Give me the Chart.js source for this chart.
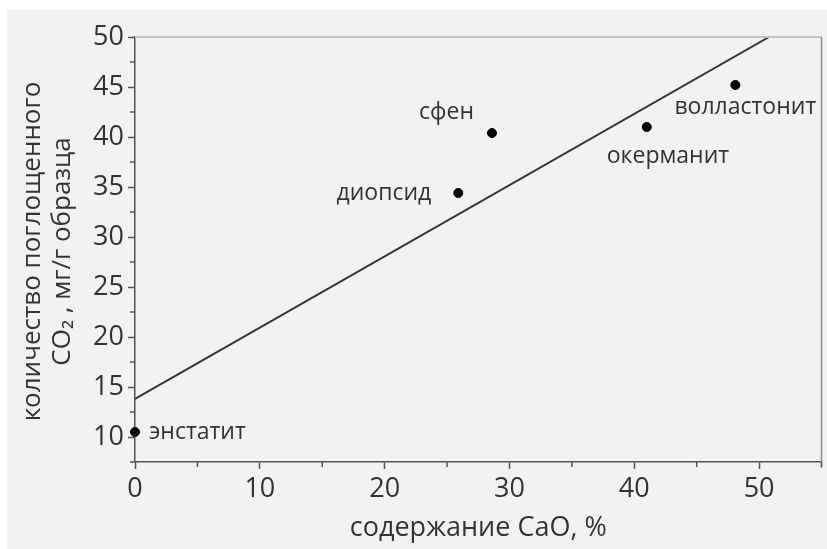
<!DOCTYPE html>
<html>
<head>
<meta charset="utf-8">
<script src="https://cdn.jsdelivr.net/npm/chart.js@4"></script>
<style>
  html, body { margin: 0; padding: 0; background: #fff; }
  #wrap { width: 827px; height: 549px; }
</style>
</head>
<body>
<div id="wrap"><canvas id="chart" width="827" height="549"></canvas></div>
<script>
// minerals: CaO content (%) vs absorbed CO2 (mg/g)
const minerals = ['энстатит', 'диопсид', 'сфен', 'окерманит', 'волластонит'];
const caoContent = [0, 25.9, 28.6, 41.0, 48.1];
const co2Absorbed = [10.5, 34.4, 40.4, 41.0, 45.2];

// fit line end points (x, y)
const fitX = [0, 50.8];
const fitY = [13.8, 50];

const xTicks = [0, 10, 20, 30, 40, 50];
const yTicks = [10, 15, 20, 25, 30, 35, 40, 45, 50];

const textColor = '#333';
const fontFamily = '"Open Sans", "Noto Sans", sans-serif';

// where each label sits relative to its dot: [dx, dy, align]
const labelPlace = [
  [14, 0, 'left'],
  [-27, 0, 'right'],
  [-18, -21, 'right'],
  [-40, 29, 'left'],
  [-61, 22, 'left']
];

const backdrop = {
  id: 'backdrop',
  beforeDraw(chart) {
    const ctx = chart.ctx;
    ctx.save();
    ctx.fillStyle = '#f2f2f2';
    ctx.fillRect(7, 10, chart.width - 7, chart.height - 10);
    ctx.restore();
  },
  afterDraw(chart) {
    const ctx = chart.ctx;
    const a = chart.chartArea;
    const xs = chart.scales.x, ys = chart.scales.y;
    ctx.save();
    // top and right frame
    ctx.strokeStyle = '#c4c4c4';
    ctx.lineWidth = 2;
    ctx.beginPath();
    ctx.moveTo(a.left, a.top);
    ctx.lineTo(a.right, a.top);
    ctx.stroke();
    ctx.strokeStyle = '#8a8a8a';
    ctx.lineWidth = 1.5;
    ctx.beginPath();
    ctx.moveTo(a.right, a.top);
    ctx.lineTo(a.right, a.bottom + 6);
    ctx.stroke();
    // minor ticks
    ctx.strokeStyle = '#555';
    ctx.lineWidth = 1.5;
    for (let v = 5; v <= 55; v += 10) {
      const px = xs.getPixelForValue(v);
      ctx.beginPath();
      ctx.moveTo(px, a.bottom);
      ctx.lineTo(px, a.bottom + 5);
      ctx.stroke();
    }
    for (let v = 7.5; v <= 50; v += 5) {
      const py = ys.getPixelForValue(v);
      ctx.beginPath();
      ctx.moveTo(a.left, py);
      ctx.lineTo(a.left - 5, py);
      ctx.stroke();
    }
    // point labels
    ctx.fillStyle = textColor;
    ctx.font = '23px ' + fontFamily;
    ctx.textBaseline = 'middle';
    minerals.forEach((name, i) => {
      const px = xs.getPixelForValue(caoContent[i]);
      const py = ys.getPixelForValue(co2Absorbed[i]);
      const p = labelPlace[i];
      ctx.textAlign = p[2];
      ctx.fillText(name, px + p[0], py + p[1]);
    });
    // y axis title, two lines
    ctx.font = '26px ' + fontFamily;
    ctx.textAlign = 'center';
    const cy = (a.top + a.bottom) / 2 + 2;
    ctx.translate(33, cy);
    ctx.rotate(-Math.PI / 2);
    ctx.fillText('количество поглощенного', 0, 0);
    ctx.fillText('CO₂ , мг/г образца', 0, 30);
    ctx.restore();
  }
};

new Chart(document.getElementById('chart'), {
  type: 'scatter',
  data: {
    datasets: [
      {
        label: 'fit',
        type: 'line',
        data: fitX.map((x, i) => ({ x: x, y: fitY[i] })),
        borderColor: '#333',
        borderWidth: 2,
        pointRadius: 0,
        fill: false
      },
      {
        label: 'minerals',
        data: caoContent.map((x, i) => ({ x: x, y: co2Absorbed[i] })),
        backgroundColor: '#000',
        borderColor: '#000',
        pointRadius: 4.5,
        clip: false
      }
    ]
  },
  options: {
    responsive: false,
    animation: false,
    layout: { padding: { left: 7, top: 37, right: 4, bottom: 0 } },
    plugins: {
      legend: { display: false },
      tooltip: { enabled: false }
    },
    scales: {
      x: {
        type: 'linear',
        min: 0,
        max: 55,
        afterFit(scale) { scale.height = 87; },
        border: { color: '#555', width: 1.5 },
        grid: {
          drawOnChartArea: false,
          tickLength: 7,
          tickWidth: 1.5,
          tickColor: (c) => (c.tick && c.tick.value % 10 === 0) ? '#555' : 'rgba(0,0,0,0)'
        },
        ticks: {
          stepSize: 10,
          color: textColor,
          padding: 4,
          font: { family: fontFamily, size: 27 },
          callback: (v) => xTicks.includes(v) ? String(v) : ''
        },
        title: {
          display: true,
          text: 'содержание CaO, %',
          color: textColor,
          font: { family: fontFamily, size: 27 },
          padding: { top: 0 }
        }
      },
      y: {
        type: 'linear',
        min: 7.5,
        max: 50,
        afterFit(scale) { scale.width = 128; },
        afterBuildTicks(scale) { scale.ticks = yTicks.map(v => ({ value: v })); },
        border: { color: '#555', width: 1.5 },
        grid: {
          drawOnChartArea: false,
          tickLength: 7,
          tickWidth: 1.5,
          tickColor: '#555'
        },
        ticks: {
          color: textColor,
          padding: 4,
          font: { family: fontFamily, size: 27 }
        }
      }
    }
  },
  plugins: [backdrop]
});
</script>
</body>
</html>
